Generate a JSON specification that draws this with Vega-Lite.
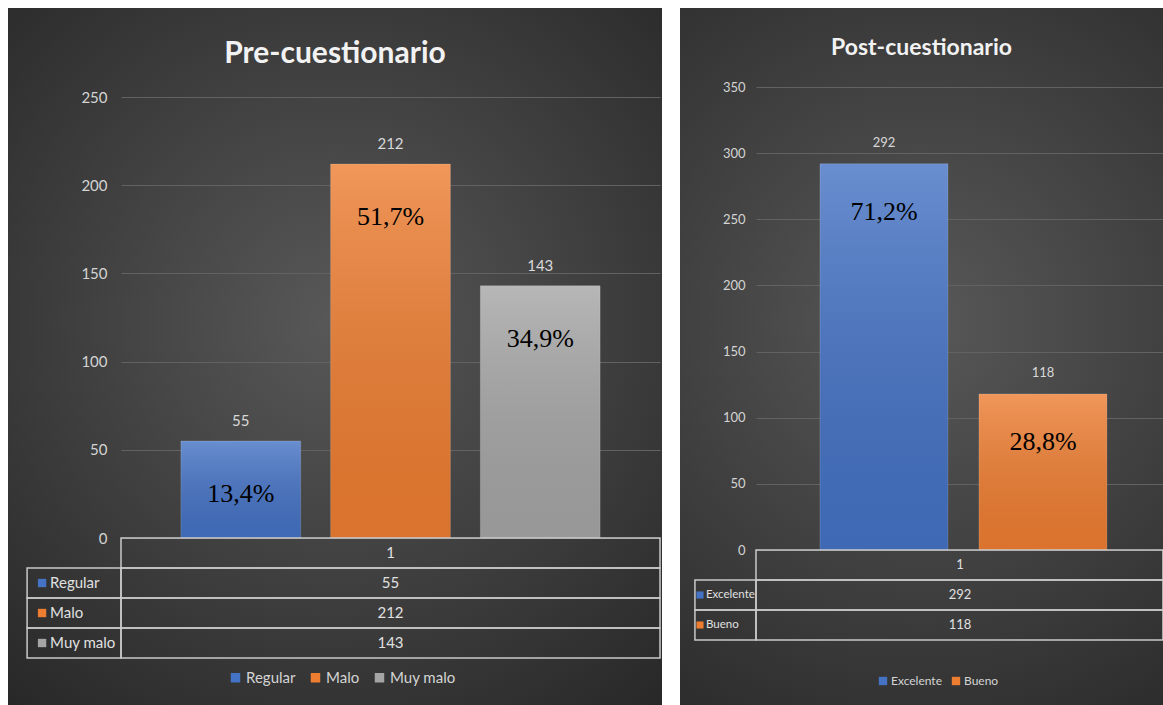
{
  "$schema": "https://vega.github.io/schema/vega-lite/v6.json",
  "background": "#ffffff",
  "padding": {"left": 8, "top": 8, "right": 0, "bottom": 0},
  "spacing": 18,
  "config": {"view": {"stroke": null}, "font": "Lato"},
  "datasets": {
    "pre": [
      {"cat": "Regular", "value": 55, "pct": "13,4%"},
      {"cat": "Malo", "value": 212, "pct": "51,7%"},
      {"cat": "Muy malo", "value": 143, "pct": "34,9%"}
    ],
    "preTable": [
      {"row": "1", "label": "", "val": "1"},
      {"row": "Regular", "label": "Regular", "val": "55"},
      {"row": "Malo", "label": "Malo", "val": "212"},
      {"row": "Muy malo", "label": "Muy malo", "val": "143"}
    ],
    "post": [
      {"cat": "Excelente", "value": 292, "pct": "71,2%"},
      {"cat": "Bueno", "value": 118, "pct": "28,8%"}
    ],
    "postTable": [
      {"row": "1", "label": "", "val": "1"},
      {"row": "Excelente", "label": "Excelente", "val": "292"},
      {"row": "Bueno", "label": "Bueno", "val": "118"}
    ]
  },
  "hconcat": [
    {
      "width": 654,
      "height": 697,
      "view": {"stroke": null, "fill": {"gradient": "radial", "x1": 0.5, "y1": 0.45, "r1": 0, "x2": 0.5, "y2": 0.45, "r2": 0.75, "stops": [{"offset": 0, "color": "#585858"}, {"offset": 1, "color": "#262626"}]}},
      "title": {"text": "Pre-cuestionario", "anchor": "middle", "frame": "group", "offset": -85, "baseline": "alphabetic", "font": "Lato", "fontSize": 30, "fontWeight": "bold", "color": "#f2f2f2"},
      "layer": [
        {
          "data": {"name": "pre"},
          "encoding": {
            "x": {"field": "cat", "type": "nominal", "sort": null, "scale": {"domain": ["Regular", "Malo", "Muy malo"], "range": [113, 652], "paddingInner": 0.2, "paddingOuter": 0.4}, "axis": null},
            "y": {"field": "value", "type": "quantitative", "scale": {"domain": [0, 250], "range": [530, 89], "nice": false, "zero": true}, "axis": {"offset": -113, "values": [0, 50, 100, 150, 200, 250], "grid": true, "gridColor": "#626262", "gridWidth": 1, "domain": false, "ticks": false, "labelPadding": 14, "labelFont": "Lato", "labelFontSize": 15, "labelColor": "#d4d4d4", "title": null}}
          },
          "layer": [
            {"mark": {"type": "bar"}, "encoding": {"color": {"field": "cat", "type": "nominal", "scale": {"domain": ["Regular", "Malo", "Muy malo"], "range": ["#4472c4", "#ed7d31", "#a5a5a5"]}, "legend": {"orient": "none", "legendX": 220, "legendY": 662, "direction": "horizontal", "title": null, "symbolType": "square", "symbolSize": 90, "symbolStrokeWidth": 0, "labelFont": "Lato", "labelFontSize": 15, "labelColor": "#d4d4d4", "labelOffset": 3, "columnPadding": 12}}}},
            {"mark": {"type": "bar", "stroke": "rgba(255,255,255,0.15)", "strokeWidth": 1, "fill": {"gradient": "linear", "x1": 0, "y1": 0, "x2": 0, "y2": 1, "stops": [{"offset": 0, "color": "rgba(255,255,255,0.2)"}, {"offset": 1, "color": "rgba(0,0,0,0.08)"}]}}},
            {"mark": {"type": "text", "dy": -20, "baseline": "middle", "font": "Lato", "fontSize": 15, "fill": "#d9d9d9"}, "encoding": {"text": {"field": "value", "type": "quantitative"}}},
            {"mark": {"type": "text", "dy": 53, "baseline": "middle", "font": "Liberation Serif", "fontSize": 26, "fill": "#000000"}, "encoding": {"text": {"field": "pct", "type": "nominal"}}}
          ]
        },
        {
          "data": {"name": "preTable"},
          "encoding": {
            "y": {"field": "row", "type": "nominal", "sort": null, "scale": {"domain": ["1", "Regular", "Malo", "Muy malo"], "range": [530, 650], "paddingInner": 0, "paddingOuter": 0}, "axis": null}
          },
          "layer": [
            {"mark": {"type": "rect", "fill": "transparent", "stroke": "#c9c9c9", "strokeWidth": 1.5}, "encoding": {"x": {"datum": "Regular", "type": "nominal", "bandPosition": -0.5, "axis": null}, "x2": {"datum": "Muy malo", "bandPosition": 1.5}}},
            {"transform": [{"filter": "datum.label !== ''"}], "mark": {"type": "rect", "fill": "transparent", "stroke": "#c9c9c9", "strokeWidth": 1.5}, "encoding": {"x": {"datum": "Regular", "type": "nominal", "bandPosition": -1.284, "axis": null}, "x2": {"datum": "Regular", "bandPosition": -0.5}}},
            {"transform": [{"filter": "datum.label !== ''"}], "mark": {"type": "square", "size": 70, "opacity": 1}, "encoding": {"x": {"datum": "Regular", "type": "nominal", "bandPosition": -1.159, "axis": null}, "color": {"field": "row", "type": "nominal", "scale": {"domain": ["Regular", "Malo", "Muy malo"], "range": ["#4472c4", "#ed7d31", "#a5a5a5"]}, "legend": null}}},
            {"transform": [{"filter": "datum.label !== ''"}], "mark": {"type": "text", "align": "left", "baseline": "middle", "font": "Lato", "fontSize": 15, "fill": "#e0e0e0"}, "encoding": {"x": {"datum": "Regular", "type": "nominal", "bandPosition": -1.092, "axis": null}, "text": {"field": "label"}}},
            {"mark": {"type": "text", "align": "center", "baseline": "middle", "font": "Lato", "fontSize": 15, "fill": "#e0e0e0"}, "encoding": {"x": {"datum": "Malo", "type": "nominal", "bandPosition": 0.5, "axis": null}, "text": {"field": "val"}}}
          ]
        }
      ],
      "resolve": {"scale": {"y": "independent"}}
    },
    {
      "width": 483,
      "height": 697,
      "view": {"stroke": null, "fill": {"gradient": "radial", "x1": 0.5, "y1": 0.45, "r1": 0, "x2": 0.5, "y2": 0.45, "r2": 0.75, "stops": [{"offset": 0, "color": "#585858"}, {"offset": 1, "color": "#262626"}]}},
      "title": {"text": "Post-cuestionario", "anchor": "middle", "frame": "group", "offset": -70, "baseline": "alphabetic", "font": "Lato", "fontSize": 23, "fontWeight": "bold", "color": "#f2f2f2"},
      "layer": [
        {
          "data": {"name": "post"},
          "encoding": {
            "x": {"field": "cat", "type": "nominal", "sort": null, "scale": {"domain": ["Excelente", "Bueno"], "range": [76, 483], "paddingInner": 0.195, "paddingOuter": 0.3775, "align": 0.533}, "axis": null},
            "y": {"field": "value", "type": "quantitative", "scale": {"domain": [0, 350], "range": [542, 79], "nice": false, "zero": true}, "axis": {"offset": -76, "values": [0, 50, 100, 150, 200, 250, 300, 350], "grid": true, "gridColor": "#626262", "gridWidth": 1, "domain": false, "ticks": false, "labelPadding": 11, "labelFont": "Lato", "labelFontSize": 13, "labelColor": "#d4d4d4", "title": null}}
          },
          "layer": [
            {"mark": {"type": "bar"}, "encoding": {"color": {"field": "cat", "type": "nominal", "scale": {"domain": ["Excelente", "Bueno"], "range": ["#4472c4", "#ed7d31"]}, "legend": {"orient": "none", "legendX": 197, "legendY": 667, "direction": "horizontal", "title": null, "symbolType": "square", "symbolSize": 70, "symbolStrokeWidth": 0, "labelFont": "Lato", "labelFontSize": 12, "labelColor": "#d4d4d4", "labelOffset": 2, "columnPadding": 8}}}},
            {"mark": {"type": "bar", "stroke": "rgba(255,255,255,0.15)", "strokeWidth": 1, "fill": {"gradient": "linear", "x1": 0, "y1": 0, "x2": 0, "y2": 1, "stops": [{"offset": 0, "color": "rgba(255,255,255,0.2)"}, {"offset": 1, "color": "rgba(0,0,0,0.08)"}]}}},
            {"mark": {"type": "text", "dy": -21, "baseline": "middle", "font": "Lato", "fontSize": 13, "fill": "#d9d9d9"}, "encoding": {"text": {"field": "value", "type": "quantitative"}}},
            {"mark": {"type": "text", "dy": 48, "baseline": "middle", "font": "Liberation Serif", "fontSize": 26, "fill": "#000000"}, "encoding": {"text": {"field": "pct", "type": "nominal"}}}
          ]
        },
        {
          "data": {"name": "postTable"},
          "encoding": {
            "y": {"field": "row", "type": "nominal", "sort": null, "scale": {"domain": ["1", "Excelente", "Bueno"], "range": [542, 632], "paddingInner": 0, "paddingOuter": 0}, "axis": null}
          },
          "layer": [
            {"mark": {"type": "rect", "fill": "transparent", "stroke": "#c9c9c9", "strokeWidth": 1.5}, "encoding": {"x": {"datum": "Excelente", "type": "nominal", "bandPosition": -0.5, "axis": null}, "x2": {"datum": "Bueno", "bandPosition": 1.4375}}},
            {"transform": [{"filter": "datum.label !== ''"}], "mark": {"type": "rect", "fill": "transparent", "stroke": "#c9c9c9", "strokeWidth": 1.5}, "encoding": {"x": {"datum": "Excelente", "type": "nominal", "bandPosition": -0.977, "axis": null}, "x2": {"datum": "Excelente", "bandPosition": -0.5}}},
            {"transform": [{"filter": "datum.label !== ''"}], "mark": {"type": "square", "size": 50, "opacity": 1}, "encoding": {"x": {"datum": "Excelente", "type": "nominal", "bandPosition": -0.9375, "axis": null}, "color": {"field": "row", "type": "nominal", "scale": {"domain": ["Excelente", "Bueno"], "range": ["#4472c4", "#ed7d31"]}, "legend": null}}},
            {"transform": [{"filter": "datum.label !== ''"}], "mark": {"type": "text", "align": "left", "baseline": "middle", "font": "Lato", "fontSize": 11.5, "fill": "#e0e0e0"}, "encoding": {"x": {"datum": "Excelente", "type": "nominal", "bandPosition": -0.891, "axis": null}, "text": {"field": "label"}}},
            {"mark": {"type": "text", "align": "center", "baseline": "middle", "font": "Lato", "fontSize": 13, "fill": "#e0e0e0"}, "encoding": {"x": {"datum": "Excelente", "type": "nominal", "bandPosition": 1.094, "axis": null}, "text": {"field": "val"}}}
          ]
        }
      ],
      "resolve": {"scale": {"y": "independent"}}
    }
  ],
  "resolve": {"scale": {"color": "independent", "x": "independent", "y": "independent"}}
}
